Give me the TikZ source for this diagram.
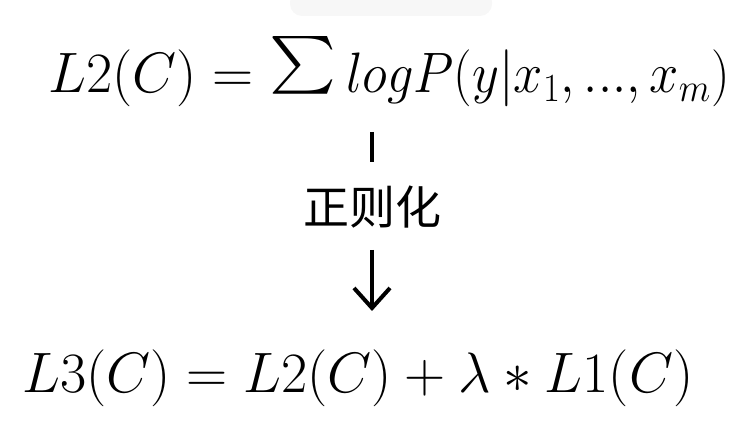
\RequirePackage{fix-cm}
\documentclass[tikz,border=0pt]{standalone}
\usepackage{graphicx}
\usepackage{fontspec}
\newfontfamily\cjk{Noto Sans CJK SC}
\usetikzlibrary{arrows.meta}
% bigger summation sign
\newcommand{\bigsum}{\mathop{\raisebox{-7pt}{\resizebox*{33.5pt}{35pt}{\raisebox{\depth}{$\sum$}}}}}
\begin{document}
\begin{tikzpicture}[x=0.5pt,y=-0.5pt,
	formula/.style={inner sep=0pt,font=\fontsize{28.5}{34}\selectfont},
	bar/.style={line width=2pt},
	downarrow/.style={line width=2pt,-{Straight Barb[length=10pt,width=18pt,line width=2pt]}}]
\useasboundingbox (0,0) rectangle (754,432);
\fill[gray!6,rounded corners=6] (290,-10) rectangle (492,16);
\node[formula,anchor=base west] (top) at (48,93) {$L2(C)=\bigsum \mathord{\scalebox{0.92}[1]{$logP(y|x_1,...,x_m)$}}$};
\node[inner sep=0pt,font=\cjk\fontsize{23}{26}\selectfont] (reg) at (372,207) {正则化};
\node[formula,anchor=base west] (bot) at (22,392) {$L3(C)=L2(C)+\lambda*L1(C)$};
\draw[bar] (reg.north |- 0,132) -- (reg.north |- 0,162);
\draw[downarrow] (reg.south |- 0,250) -- (reg.south |- 0,311);
\end{tikzpicture}
\end{document}
